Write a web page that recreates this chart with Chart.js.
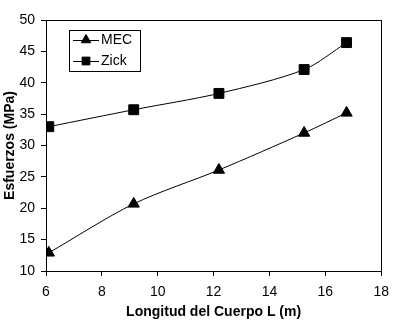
<!DOCTYPE html>
<html>
<head>
<meta charset="utf-8">
<script src="https://cdn.jsdelivr.net/npm/chart.js@4/dist/chart.umd.min.js"></script>
<style>
html,body{margin:0;padding:0;background:#fff;}
#wrap{width:397px;height:326px;position:relative;}
</style>
</head>
<body>
<div id="wrap"><canvas id="c" width="397" height="326"></canvas></div>
<script>
const lengths = [6.10, 9.14, 12.19, 15.24, 16.76];
const mecValues = [12.9, 20.7, 26.1, 32.0, 35.2];
const zickValues = [33.0, 35.7, 38.3, 42.1, 46.4];
const seriesNames = ['MEC', 'Zick'];
const xTitle = 'Longitud del Cuerpo L (m)';
const yTitle = 'Esfuerzos (MPa)';

const FONT = "'Liberation Sans', Arial, sans-serif";

const frame = {
  id: 'frame',
  afterDatasetsDraw(chart) {
    const a = chart.chartArea, ctx = chart.ctx;
    ctx.save();
    ctx.strokeStyle = '#000';
    ctx.lineWidth = 1;
    ctx.strokeRect(Math.round(a.left) + 0.5, Math.round(a.top) + 0.5,
      Math.round(a.right - a.left), Math.round(a.bottom - a.top));
    // legend box
    const bx = 69.5, by = 30.5, bw = 71, bh = 41;
    ctx.fillStyle = '#fff';
    ctx.fillRect(bx, by, bw, bh);
    ctx.strokeRect(bx, by, bw, bh);
    const rows = [40, 61];
    chart.data.datasets.forEach((ds, i) => {
      const y = rows[i] + 0.5;
      ctx.beginPath();
      ctx.moveTo(73, y); ctx.lineTo(99, y);
      ctx.strokeStyle = '#000'; ctx.lineWidth = 1; ctx.stroke();
      ctx.fillStyle = '#000';
      ctx.strokeStyle = '#000';
      Chart.helpers.drawPoint(ctx, {
        pointStyle: ds.pointStyle,
        radius: ds.pointStyle === 'rect' ? 5.5 : 5.5,
        borderWidth: 1
      }, 86, rows[i]);
      ctx.fillStyle = '#000';
      ctx.font = '14px ' + FONT;
      ctx.textBaseline = 'middle';
      ctx.textAlign = 'left';
      ctx.fillText(ds.label, 101, rows[i] + 0.5);
    });
    ctx.restore();
  }
};

new Chart(document.getElementById('c'), {
  type: 'line',
  data: {
    datasets: [
      {
        label: seriesNames[0],
        data: lengths.map((x, i) => ({x: x, y: mecValues[i]})),
        borderColor: '#000', backgroundColor: '#000', borderWidth: 1,
        pointStyle: 'triangle', pointRadius: 6.5, pointBorderWidth: 1,
        pointBackgroundColor: '#000', pointBorderColor: '#000',
        tension: 0.3, fill: false
      },
      {
        label: seriesNames[1],
        data: lengths.map((x, i) => ({x: x, y: zickValues[i]})),
        borderColor: '#000', backgroundColor: '#000', borderWidth: 1,
        pointStyle: 'rect', pointRadius: 7, pointBorderWidth: 1,
        pointBackgroundColor: '#000', pointBorderColor: '#000',
        tension: 0.3, fill: false
      }
    ]
  },
  options: {
    responsive: false,
    animation: false,
    devicePixelRatio: 1,
    layout: {padding: {left: 0, top: 20, right: 10, bottom: 0}},
    plugins: {legend: {display: false}, tooltip: {enabled: false}},
    scales: {
      x: {
        type: 'linear', min: 6, max: 18,
        ticks: {stepSize: 2, color: '#000', font: {family: FONT, size: 14}, padding: 8, maxRotation: 0},
        grid: {drawOnChartArea: false, drawTicks: true, tickLength: 5, color: '#000'},
        border: {display: true, color: '#000'},
        title: {display: true, text: xTitle, color: '#000', font: {family: FONT, size: 14, weight: 'bold'}, padding: {top: 4, bottom: 5}},
        afterFit(s) { s.height = 55; }
      },
      y: {
        min: 10, max: 50,
        ticks: {stepSize: 5, color: '#000', font: {family: FONT, size: 14}, padding: 6},
        grid: {drawOnChartArea: false, drawTicks: true, tickLength: 5, color: '#000'},
        border: {display: true, color: '#000'},
        title: {display: true, text: yTitle, color: '#000', font: {family: FONT, size: 14, weight: 'bold'}, padding: {top: 2, bottom: 2}},
        afterFit(s) { s.width = 46; }
      }
    }
  },
  plugins: [frame]
});
</script>
</body>
</html>
